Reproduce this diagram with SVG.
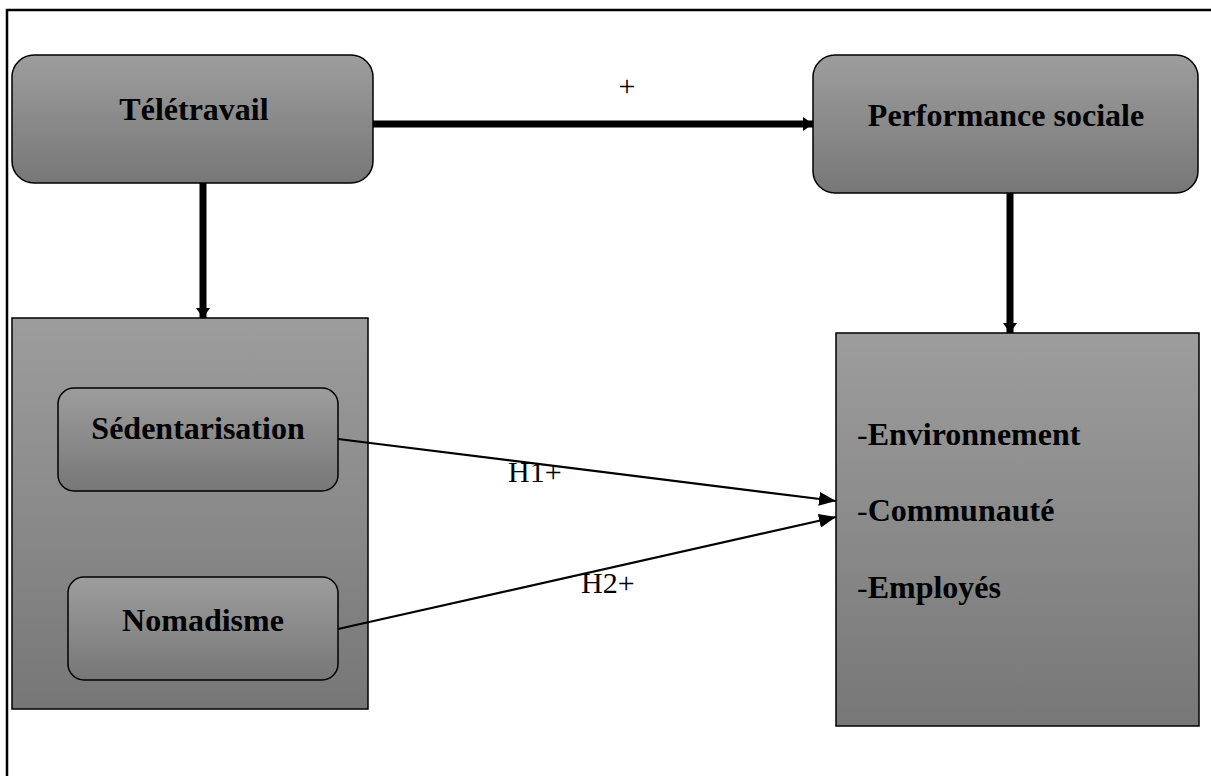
<svg xmlns="http://www.w3.org/2000/svg" width="1211" height="776" viewBox="0 0 1211 776">
<defs>
<linearGradient id="g" x1="0" y1="0" x2="0" y2="1">
<stop offset="0" stop-color="#9d9d9d"/>
<stop offset="1" stop-color="#777777"/>
</linearGradient>
<marker id="thick" markerUnits="userSpaceOnUse" markerWidth="12" markerHeight="16" refX="10" refY="8" orient="auto">
<path d="M0,1 L10,8 L0,15 Z" fill="#000"/>
</marker>
<marker id="thin" markerUnits="userSpaceOnUse" markerWidth="18" markerHeight="14" refX="17" refY="7" orient="auto">
<path d="M0,0 L17,7 L0,14 Z" fill="#000"/>
</marker>
</defs>
<style>
.box{fill:url(#g);stroke:#000;stroke-width:1.5}
.thick{stroke:#000;stroke-width:7;fill:none;marker-end:url(#thick)}
.thinl{stroke:#000;stroke-width:2.2;fill:none;marker-end:url(#thin)}
</style>
<rect width="1211" height="776" fill="#fff"/>
<path d="M7,776 L7,10 L1211,10" fill="none" stroke="#000" stroke-width="2.5"/>

<g font-family="Liberation Serif, Times New Roman, DejaVu Serif, serif" font-weight="bold" font-size="32" fill="#000">
<g id="teletravail">
<rect class="box" x="12" y="55" width="361" height="128" rx="22"/>
<text x="194" y="120" text-anchor="middle">Télétravail</text>
</g>

<g id="performance">
<rect class="box" x="813" y="55" width="385" height="138" rx="22"/>
<text x="1006" y="126" text-anchor="middle">Performance sociale</text>
</g>

<g id="dimensions">
<rect class="box" x="12" y="318" width="356" height="391"/>
</g>

<g id="sedentarisation">
<rect class="box" x="58" y="388" width="280" height="103" rx="16"/>
<text x="198" y="439" text-anchor="middle">Sédentarisation</text>
</g>

<g id="nomadisme">
<rect class="box" x="68" y="577" width="270" height="103" rx="16"/>
<text x="203" y="631" text-anchor="middle">Nomadisme</text>
</g>

<g id="parties">
<rect class="box" x="836" y="333" width="363" height="393"/>
<text x="857" y="445"><tspan font-weight="normal">-</tspan>Environnement</text>
<text x="857" y="521"><tspan font-weight="normal">-</tspan>Communauté</text>
<text x="857" y="598"><tspan font-weight="normal">-</tspan>Employés</text>
</g>
</g>

<g id="connectors" font-family="Liberation Serif, Times New Roman, DejaVu Serif, serif" font-size="30" fill="#000">
<line class="thick" x1="373" y1="124" x2="813" y2="124"/>
<line class="thick" x1="203" y1="183" x2="203" y2="318"/>
<line class="thick" x1="1010" y1="193" x2="1010" y2="333"/>
<line class="thinl" x1="338" y1="439" x2="836" y2="501"/>
<line class="thinl" x1="338" y1="629" x2="836" y2="517"/>
<text x="627" y="96" text-anchor="middle">+</text>
<text x="508" y="482">H1+</text>
<text x="581" y="593">H2+</text>
</g>
</svg>
